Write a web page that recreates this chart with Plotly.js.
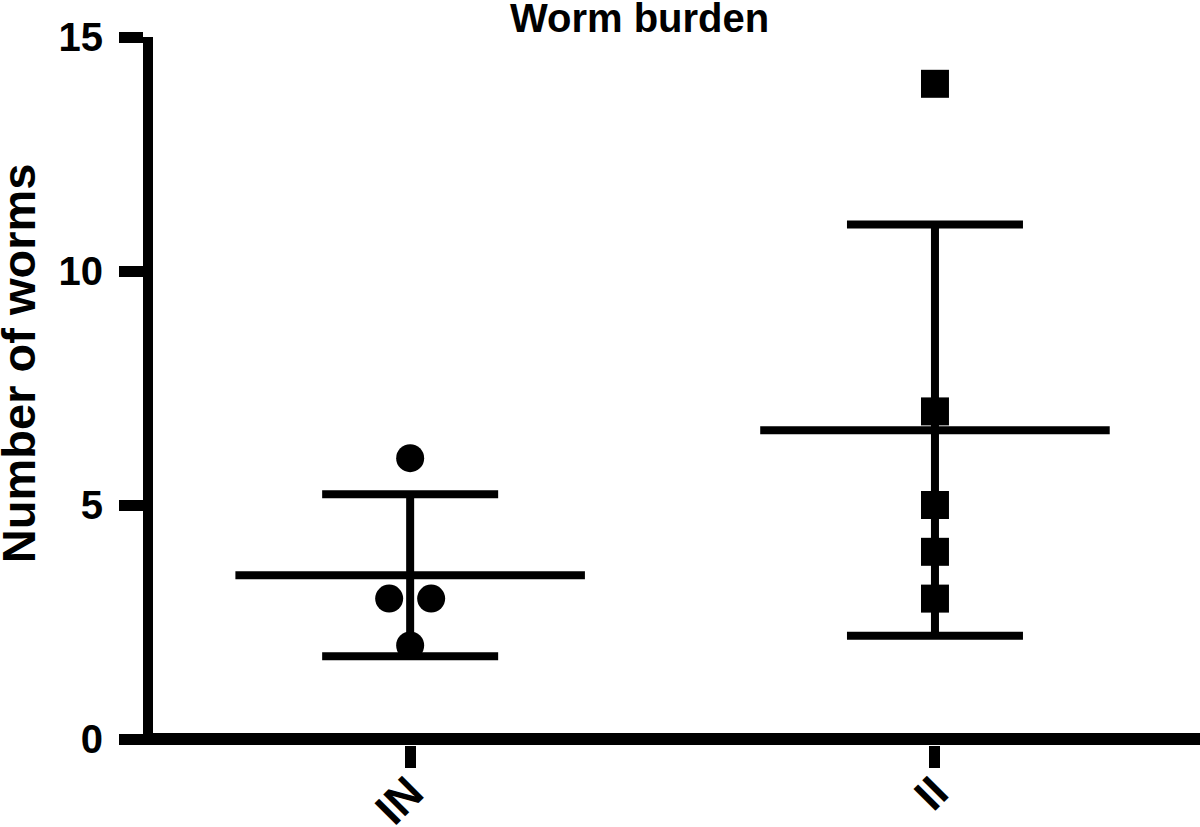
<!DOCTYPE html>
<html>
<head>
<meta charset="utf-8">
<script src="https://cdn.plot.ly/plotly-3.0.1.min.js"></script>
<style>html,body{margin:0;padding:0;background:#fff;}#chart{width:1200px;height:827px;}</style>
</head>
<body>
<div id="chart"></div>
<script>
// ---- data ----
const groups = ['IN', 'II'];
const valuesIN = [6, 3, 3, 2];
const valuesII = [14, 7, 5, 4, 3];
const yTicks = [0, 5, 10, 15];
const titleText = 'Worm burden';
const yTitleText = 'Number of worms';

const seriesValues = [valuesIN, valuesII];
const symbols = ['circle', 'square'];

function mean(a) { return a.reduce((s, v) => s + v, 0) / a.length; }
function sd(a) { const m = mean(a); return Math.sqrt(a.reduce((s, v) => s + (v - m) * (v - m), 0) / (a.length - 1)); }

const FONT = 'Liberation Sans, Arial, Helvetica, sans-serif';
const traces = [];

seriesValues.forEach((vals, gi) => {
  const m = mean(vals), s = sd(vals);
  // mean line
  traces.push({
    x: [gi - 0.333, gi + 0.333], y: [m, m], mode: 'lines',
    line: {color: '#000', width: 8}, hoverinfo: 'skip', showlegend: false
  });
  // SD error bar
  traces.push({
    x: [gi], y: [m], mode: 'markers',
    marker: {size: 1, color: 'rgba(0,0,0,0)'},
    error_y: {type: 'data', array: [s], visible: true, color: '#000', thickness: 8, width: 88},
    hoverinfo: 'skip', showlegend: false
  });
  // points, spreading duplicates side by side
  const xs = [];
  vals.forEach((v, i) => {
    const nDup = vals.filter(w => w === v).length;
    const k = vals.slice(0, i).filter(w => w === v).length;
    xs.push(gi + (k - (nDup - 1) / 2) * 0.08);
  });
  traces.push({
    x: xs, y: vals, mode: 'markers',
    marker: {symbol: symbols[gi], size: 28, color: '#000'},
    showlegend: false
  });
});

const layout = {
  width: 1200, height: 827,
  paper_bgcolor: '#fff', plot_bgcolor: '#fff',
  margin: {l: 153, r: 0, t: 37, b: 82},
  showlegend: false,
  title: {
    text: titleText, x: 0.533, xanchor: 'center', y: 0.978, yanchor: 'middle',
    yref: 'container',
    font: {family: FONT, size: 40, color: '#000', weight: 'bold'}
  },
  xaxis: {
    range: [-0.49, 1.505], tickvals: [0, 1], ticktext: groups,
    showgrid: false, zeroline: false, showline: false,
    ticks: 'outside', ticklen: 22, tickwidth: 11, tickcolor: '#000',
    tickangle: -45, ticklabelstandoff: -20,
    tickfont: {family: FONT, size: 45, color: '#000', weight: 'bold'}
  },
  yaxis: {
    range: [-0.128, 15], tickvals: yTicks, ticktext: yTicks.map(String),
    showgrid: false, zeroline: true, zerolinecolor: '#000', zerolinewidth: 12,
    showline: true, linecolor: '#000', linewidth: 10,
    ticks: 'outside', ticklen: 24, tickwidth: 11, tickcolor: '#000',
    ticklabelstandoff: 8,
    tickfont: {family: FONT, size: 40, color: '#000', weight: 'bold'}
  },
  annotations: [{
    text: yTitleText, textangle: -90, showarrow: false,
    xref: 'paper', yref: 'paper', x: -0.1285, y: 0.54,
    xanchor: 'center', yanchor: 'middle',
    font: {family: FONT, size: 47, color: '#000', weight: 'bold'}
  }]
};

Plotly.newPlot('chart', traces, layout, {displayModeBar: false, staticPlot: true});
</script>
</body>
</html>
